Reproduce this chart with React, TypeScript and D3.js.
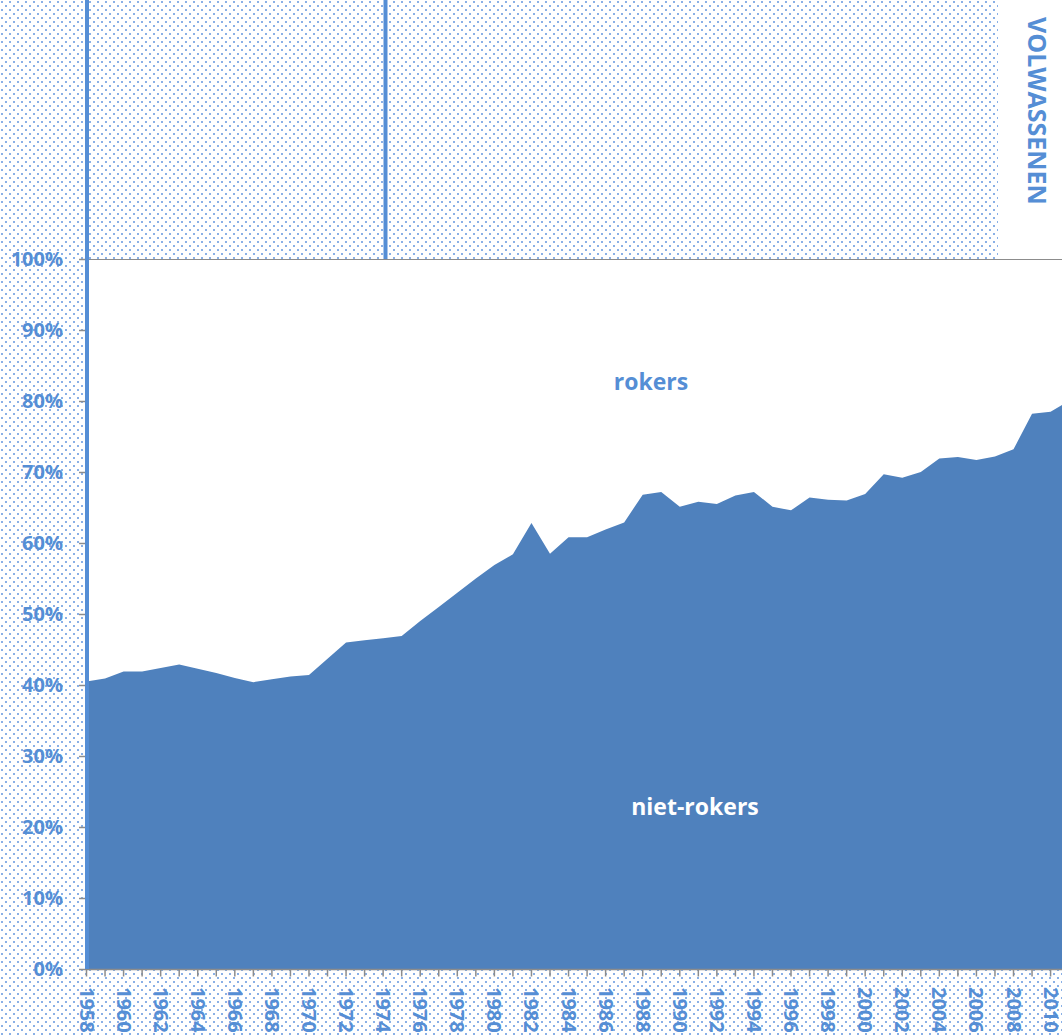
import React from "react";
import * as d3 from "d3";

const years: number[] = d3.range(1958, 2012);
const nietRokers: number[] = [
  40.5, 40.9, 41.9, 41.9, 42.4, 42.9, 42.3, 41.7, 41.0, 40.4,
  40.8, 41.2, 41.4, 43.7, 46.0, 46.3, 46.6, 46.9, 49.0, 51.0,
  53.0, 55.0, 56.9, 58.4, 62.8, 58.5, 60.8, 60.8, 61.9, 62.9,
  66.8, 67.2, 65.1, 65.8, 65.5, 66.7, 67.2, 65.1, 64.6, 66.4,
  66.1, 66.0, 66.9, 69.7, 69.2, 70.0, 71.9, 72.1, 71.7, 72.2,
  73.2, 78.2, 78.5, 80.0,
];
const rokers: number[] = [
  59.5, 59.1, 58.1, 58.1, 57.6, 57.1, 57.7, 58.3, 59.0, 59.6,
  59.2, 58.8, 58.6, 56.3, 54.0, 53.7, 53.4, 53.1, 51.0, 49.0,
  47.0, 45.0, 43.1, 41.6, 37.2, 41.5, 39.2, 39.2, 38.1, 37.1,
  33.2, 32.8, 34.9, 34.2, 34.5, 33.3, 32.8, 34.9, 35.4, 33.6,
  33.9, 34.0, 33.1, 30.3, 30.8, 30.0, 28.1, 27.9, 28.3, 27.8,
  26.8, 21.8, 21.5, 20.0,
];
const yTicks: number[] = [0, 10, 20, 30, 40, 50, 60, 70, 80, 90, 100];
const yearLabels: number[] = d3.range(1958, 2011, 2);
const seriesNames = ["niet-rokers", "rokers"];

const W = 1062;
const H = 1035;
const TEXT = "#558ED5";
const FILL = "#4F81BD";
const FONT = "'Open Sans', sans-serif";

export default function App() {
  const x = d3.scaleLinear().domain([1958, 2011]).range([86.5, 86.5 + 53 * 18.54]);
  const y = d3.scaleLinear().domain([0, 100]).range([969, 259]);

  const table = years.map((yr, i) => ({ year: yr, "niet-rokers": nietRokers[i], rokers: rokers[i] }));
  const stacked = d3.stack<any>().keys(seriesNames)(table);
  const area = d3
    .area<any>()
    .x((d) => x(d.data.year))
    .y0((d) => y(d[0]))
    .y1((d) => y(d[1]));

  const plotLeft = 88;
  const plotTop = y(100);
  const plotBottom = y(0);

  return (
    <svg
      width={W}
      height={H}
      style={{ position: "absolute", left: 0, top: 0, display: "block" }}
      fontFamily={FONT}
    >
      <defs>
        <pattern id="dots" width="8" height="8" patternUnits="userSpaceOnUse">
          <rect x="1" y="1" width="2" height="2" fill="#8AB0E6" />
          <rect x="5" y="5" width="2" height="2" fill="#8AB0E6" />
        </pattern>
        <clipPath id="plotclip">
          <rect x={plotLeft} y={plotTop} width={W - plotLeft} height={plotBottom - plotTop} />
        </clipPath>
      </defs>

      <rect x={0} y={0} width={W} height={H} fill="white" />
      <rect x={0} y={0} width={W} height={H} fill="url(#dots)" />
      <rect x={998} y={0} width={W - 998} height={plotTop} fill="white" />
      <rect x={plotLeft} y={plotTop} width={W - plotLeft} height={plotBottom - plotTop} fill="white" />

      <g clipPath="url(#plotclip)">
        <path d={area(stacked[1] as any) || ""} fill="white" />
        <path d={area(stacked[0] as any) || ""} fill={FILL} />
      </g>

      {/* top border / gridline */}
      <line x1={80} x2={W} y1={plotTop + 0.5} y2={plotTop + 0.5} stroke="#8C8C8C" strokeWidth={1} />

      {/* y axis ticks and labels */}
      {yTicks.map((t) => (
        <g key={t}>
          <line x1={79} x2={87} y1={y(t) + 0.5} y2={y(t) + 0.5} stroke="#8C8C8C" strokeWidth={1.5} />
          <text
            x={63}
            y={y(t)}
            dy="0.35em"
            textAnchor="end"
            fontSize={20}
            fontWeight="bold"
            fill={TEXT}
          >
            {t}%
          </text>
        </g>
      ))}

      {/* x axis */}
      <line x1={86} x2={W} y1={969.5} y2={969.5} stroke="#8C8C8C" strokeWidth={1.5} />
      {years.map((yr) => (
        <line
          key={yr}
          x1={x(yr)}
          x2={x(yr)}
          y1={969.5}
          y2={976.5}
          stroke="#8C8C8C"
          strokeWidth={1.5}
        />
      ))}
      {yearLabels.map((yr) => (
        <text
          key={yr}
          transform={`translate(${x(yr)},987) rotate(90)`}
          dy="0.35em"
          textAnchor="start"
          fontSize={20}
          fontWeight="bold"
          fill={TEXT}
        >
          {yr}
        </text>
      ))}

      {/* vertical blue lines */}
      <rect x={85} y={0} width={4} height={plotBottom} fill={TEXT} />
      <rect x={383.5} y={0} width={4} height={plotTop} fill={TEXT} />

      {/* series labels */}
      <text x={651} y={390} textAnchor="middle" fontSize={23} fontWeight="bold" fill={TEXT}>
        rokers
      </text>
      <text x={695} y={815} textAnchor="middle" fontSize={23} fontWeight="bold" fill="white">
        niet-rokers
      </text>

      <text
        transform="translate(1028,17) rotate(90)"
        textAnchor="start"
        fontSize={25}
        fontWeight="bold"
        fill={TEXT}
      >
        VOLWASSENEN
      </text>
    </svg>
  );
}
